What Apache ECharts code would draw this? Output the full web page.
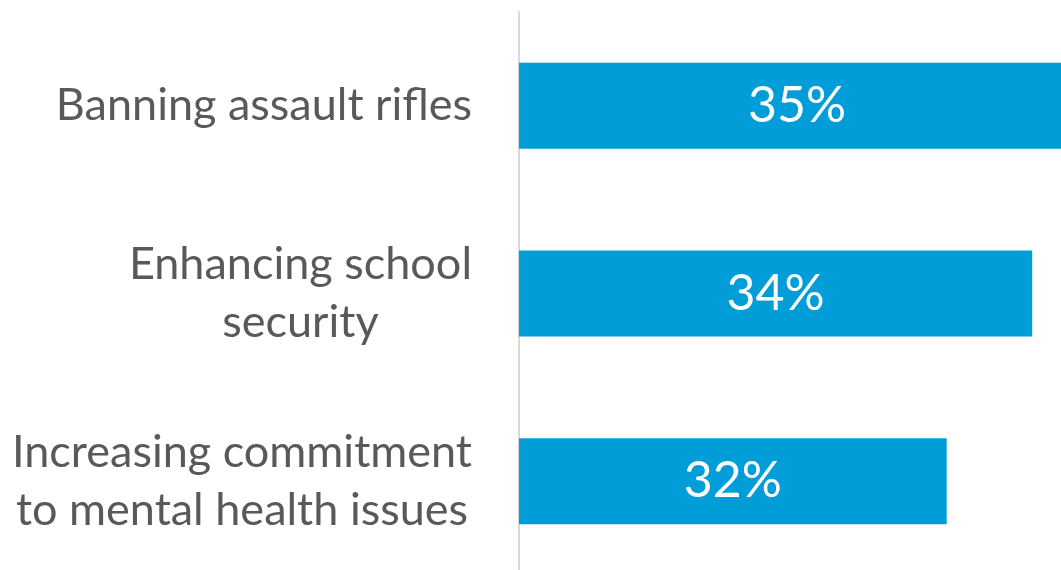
<!DOCTYPE html>
<html lang="en">
<head>
    <meta charset="UTF-8">
    <title>Policy priorities</title>
    <script src="https://cdn.jsdelivr.net/npm/echarts@6/dist/echarts.min.js"></script>
</head>
<body style="margin:0; overflow:hidden;">
<!-- the chart runs a little past the right and bottom edges, like the source -->
<div id="main" style="width: 1080px; height: 575px;"></div>
<script type="text/javascript">
    // categories, top to bottom
    var categories = ['Banning assault rifles', 'Enhancing school\nsecurity', 'Increasing commitment\nto mental health issues'];
    // share of respondents (%)
    var values = [35, 34, 32];

    var myChart = echarts.init(document.getElementById('main'));

    var option = {
        backgroundColor: '#ffffff',
        animation: false,
        grid: {
            left: 519,
            right: 5,
            top: 12,
            bottom: 0
        },
        xAxis: {
            type: 'value',
            min: 22,
            max: 35,
            show: false
        },
        yAxis: {
            type: 'category',
            inverse: true,
            data: categories,
            axisLine: {
                show: true,
                lineStyle: { color: '#d9d9d9', width: 2 }
            },
            axisTick: { show: false },
            axisLabel: {
                margin: 47,
                color: '#595959',
                fontFamily: 'Lato',
                fontSize: 45,
                lineHeight: 58,
                formatter: function (v) {
                    return v.split('\n').map(function (s) { return '{c|' + s + '}'; }).join('\n');
                },
                rich: {
                    c: {
                        align: 'center',
                        color: '#595959',
                        fontFamily: 'Lato',
                        fontSize: 45,
                        lineHeight: 58
                    }
                }
            }
        },
        series: [{
            type: 'bar',
            data: values,
            barWidth: 86,
            itemStyle: { color: '#009dd9' },
            label: {
                show: true,
                position: 'inside',
                color: '#ffffff',
                fontFamily: 'Lato',
                fontSize: 50,
                formatter: '{c}%'
            }
        }]
    };
    myChart.setOption(option);
</script>
</body>
</html>
